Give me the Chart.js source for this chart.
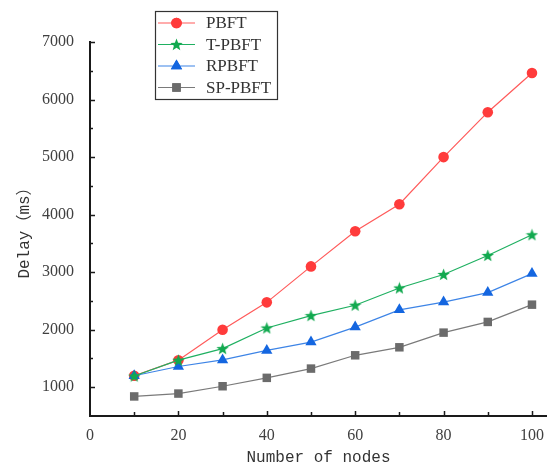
<!DOCTYPE html>
<html>
<head>
<meta charset="utf-8">
<script src="https://cdn.jsdelivr.net/npm/chart.js@4.4.1/dist/chart.umd.min.js"></script>
<style>
html,body{margin:0;padding:0;background:#fff;}
#wrap{width:547px;height:466px;position:relative;}
</style>
</head>
<body>
<div id="wrap"><canvas id="c" width="547" height="466"></canvas></div>
<script>
const nodes = [10, 20, 30, 40, 50, 60, 70, 80, 90, 100];
const pbft = [1200, 1470, 2000, 2475, 3100, 3710, 4180, 5000, 5780, 6460];
const tpbft = [1195, 1470, 1672, 2030, 2245, 2425, 2725, 2960, 3290, 3650];
const rpbft = [1200, 1360, 1475, 1640, 1785, 2045, 2345, 2480, 2645, 2975];
const sppbft = [840, 890, 1017, 1163, 1324, 1555, 1694, 1949, 2135, 2435];
const seriesLabels = ['PBFT', 'T-PBFT', 'RPBFT', 'SP-PBFT'];
const xTickLabels = [0, 20, 40, 60, 80, 100];
const yTickLabels = [1000, 2000, 3000, 4000, 5000, 6000, 7000];

function makeStar(color, size) {
  const cv = document.createElement('canvas');
  cv.width = size; cv.height = size;
  const g = cv.getContext('2d');
  const cx = size / 2, cy = size / 2 + 0.5, R = size / 2, r = R * 0.42;
  g.beginPath();
  for (let i = 0; i < 10; i++) {
    const a = -Math.PI / 2 + i * Math.PI / 5;
    const rr = i % 2 === 0 ? R : r;
    const px = cx + rr * Math.cos(a), py = cy + rr * Math.sin(a);
    if (i === 0) g.moveTo(px, py); else g.lineTo(px, py);
  }
  g.closePath();
  g.fillStyle = color;
  g.fill();
  return cv;
}
const star = makeStar('#12a94f', 13);

function pts(arr) { return nodes.map((x, i) => ({x: x, y: arr[i]})); }

const datasets = [
  {label: seriesLabels[0], data: pts(pbft), borderColor: '#ff5a5a', backgroundColor: '#ff3b3b',
   pointBackgroundColor: '#ff3b3b', pointBorderColor: '#ff3b3b', pointStyle: 'circle', pointRadius: 5.3, order: 3},
  {label: seriesLabels[1], data: pts(tpbft), borderColor: '#1fb061', backgroundColor: '#12a94f',
   pointStyle: star, pointRadius: 6.5, order: 1},
  {label: seriesLabels[2], data: pts(rpbft), borderColor: '#3d84e6', backgroundColor: '#1466e0',
   pointBackgroundColor: '#1466e0', pointBorderColor: '#1466e0', pointStyle: 'triangle', pointRadius: 6.5, order: 2},
  {label: seriesLabels[3], data: pts(sppbft), borderColor: '#7a7a7a', backgroundColor: '#6b6b6b',
   pointBackgroundColor: '#6b6b6b', pointBorderColor: '#6b6b6b', pointStyle: 'rect', pointRadius: 6, order: 0}
];
datasets.forEach(d => { d.borderWidth = 1.2; d.pointBorderWidth = 0; d.tension = 0; d.fill = false; d.pointHoverRadius = d.pointRadius; });

const inwardTicks = {
  id: 'inwardTicks',
  afterDraw(chart) {
    const ctx = chart.ctx, xs = chart.scales.x, ys = chart.scales.y;
    const a = chart.chartArea;
    ctx.save();
    ctx.strokeStyle = '#1a1a1a';
    ctx.lineWidth = 1.5;
    for (let v = 10; v <= 100; v += 10) {
      const px = Math.round(xs.getPixelForValue(v)) + 0.5;
      const len = (v % 20 === 0) ? 5 : 4;
      ctx.beginPath(); ctx.moveTo(px, a.bottom); ctx.lineTo(px, a.bottom - len); ctx.stroke();
    }
    for (let v = 1000; v <= 7000; v += 500) {
      const py = Math.round(ys.getPixelForValue(v)) + 0.5;
      const len = (v % 1000 === 0) ? 5 : 3;
      ctx.beginPath(); ctx.moveTo(a.left, py); ctx.lineTo(a.left + len, py); ctx.stroke();
    }
    ctx.restore();
  }
};

const customLegend = {
  id: 'customLegend',
  afterDraw(chart) {
    const ctx = chart.ctx;
    const bx = 155, by = 11, bw = 122, bh = 88;
    ctx.save();
    ctx.fillStyle = '#fff';
    ctx.fillRect(bx, by, bw, bh);
    ctx.strokeStyle = '#333';
    ctx.lineWidth = 1.2;
    ctx.strokeRect(bx + 0.5, by + 0.5, bw, bh);
    ctx.font = '17px "Liberation Serif", "DejaVu Serif", serif';
    ctx.textBaseline = 'middle';
    ctx.textAlign = 'left';
    chart.data.datasets.forEach((ds, i) => {
      const y = by + 12 + i * 21.5;
      ctx.strokeStyle = ds.borderColor;
      ctx.lineWidth = 1.2;
      ctx.beginPath(); ctx.moveTo(bx + 3, y); ctx.lineTo(bx + 40, y); ctx.stroke();
      const cx = bx + 21.5;
      if (ds.pointStyle instanceof HTMLCanvasElement) {
        ctx.drawImage(ds.pointStyle, cx - ds.pointStyle.width / 2, y - ds.pointStyle.height / 2);
      } else {
        ctx.fillStyle = ds.pointBackgroundColor;
        ctx.strokeStyle = ds.pointBackgroundColor;
        Chart.helpers.drawPoint(ctx, {pointStyle: ds.pointStyle, radius: ds.pointRadius, rotation: 0, borderWidth: 0}, cx, y);
        ctx.fill();
      }
      ctx.fillStyle = '#333';
      ctx.fillText(ds.label, bx + 51, y + 1);
    });
    ctx.restore();
  }
};

new Chart(document.getElementById('c'), {
  type: 'line',
  data: {datasets: datasets},
  plugins: [inwardTicks, customLegend],
  options: {
    responsive: false,
    animation: false,
    events: [],
    layout: {autoPadding: false, padding: {top: 42, right: 0, left: 0, bottom: 0}},
    plugins: {legend: {display: false}, tooltip: {enabled: false}},
    scales: {
      x: {
        type: 'linear', min: 0, max: 103.4,
        afterBuildTicks(s) { s.ticks = xTickLabels.map(v => ({value: v})); },
        afterFit(s) { s.height = 50; },
        grid: {display: false},
        border: {display: true, color: '#1a1a1a', width: 2},
        ticks: {color: '#404040', padding: 2, font: {family: '"Liberation Serif", "DejaVu Serif", serif', size: 16}, maxRotation: 0,
          callback: v => String(v)},
        title: {display: true, text: 'Number of nodes', color: '#333', padding: {top: 0, bottom: 0},
          font: {family: '"Liberation Mono", "DejaVu Sans Mono", monospace', size: 16, lineHeight: 1}}
      },
      y: {
        type: 'linear', min: 500, max: 7000,
        afterBuildTicks(s) { s.ticks = yTickLabels.map(v => ({value: v})); },
        afterFit(s) { s.width = 90; },
        grid: {display: false},
        border: {display: true, color: '#1a1a1a', width: 2},
        ticks: {color: '#404040', padding: 8, font: {family: '"Liberation Serif", "DejaVu Serif", serif', size: 16},
          callback: v => String(v)},
        title: {display: true, text: 'Delay（ms）', color: '#333', padding: {top: 15, bottom: 0},
          font: {family: '"Liberation Mono", "Noto Sans CJK SC", monospace', size: 16, lineHeight: 1.2}}
      }
    }
  }
});
</script>
</body>
</html>
